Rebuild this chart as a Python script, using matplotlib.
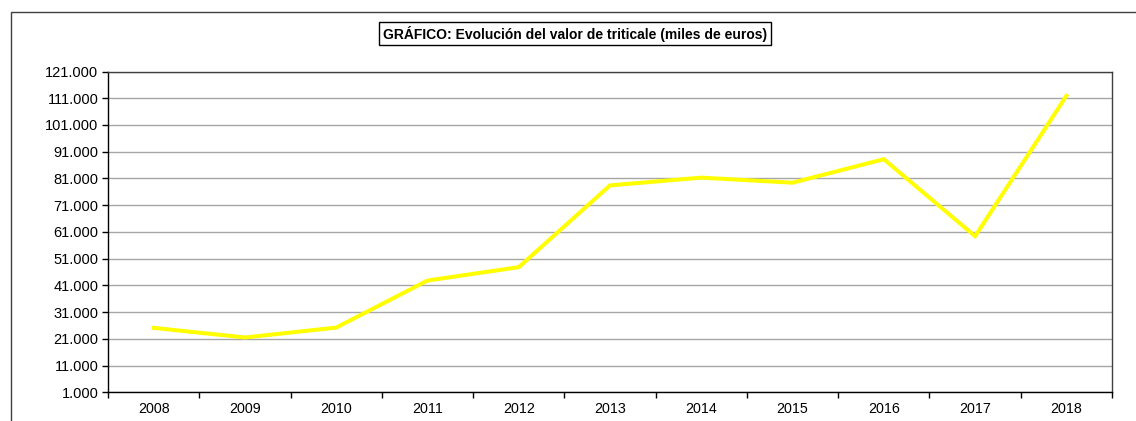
import numpy as np
import matplotlib.pyplot as plt
from matplotlib.patches import Rectangle
from matplotlib.ticker import FixedLocator, FuncFormatter

plt.rcParams.update({
    'font.family': 'sans-serif',
    'font.sans-serif': ['Liberation Sans', 'DejaVu Sans'],
    'font.size': 10,
})

# Data (miles de euros)
years = ['2008', '2009', '2010', '2011', '2012', '2013',
         '2014', '2015', '2016', '2017', '2018']
valor = [25100, 21500, 25200, 42800, 47800, 78400,
         81300, 79400, 88200, 59400, 111900]
yticks = list(range(1000, 121001, 10000))

fig = plt.figure(figsize=(11.36, 4.21), dpi=100)

# outer chart frame (cut off at right and bottom like the reference)
fig.add_artist(Rectangle((11 / 1136, -0.1), 1.2, 1.1 - 12 / 421,
                         transform=fig.transFigure, fill=False,
                         edgecolor='#404040', linewidth=1.0, clip_on=False))

ax = fig.add_axes([108 / 1136, 1 - 392.3 / 421, (1112 - 108) / 1136, (392.3 - 71.5) / 421])

x = np.arange(len(years))
ax.plot(x, valor, color='#FFFF00', linewidth=2.9, solid_joinstyle='miter', zorder=3)

ax.set_xlim(-0.5, len(years) - 0.5)
ax.set_ylim(1000, 121000)

# y axis
ax.yaxis.set_major_locator(FixedLocator(yticks))
ax.yaxis.set_major_formatter(FuncFormatter(lambda v, p: f'{v:,.0f}'.replace(',', '.')))
ax.grid(True, axis='y', color='#a6a6a6', linewidth=1.0)
ax.set_axisbelow(True)

# x axis: labels at centres, ticks at category borders
ax.set_xticks(x)
ax.set_xticklabels(years)
ax.set_xticks(np.arange(-0.5, len(years)), minor=True)
ax.tick_params(axis='x', which='major', length=0, pad=7, labelsize=10.3)
ax.tick_params(axis='x', which='minor', length=4, width=1, direction='out', color='black')
ax.tick_params(axis='y', which='major', length=4, width=1, direction='out',
               pad=3, labelsize=10.5, color='black')

for side in ['left', 'bottom']:
    ax.spines[side].set_color('black')
    ax.spines[side].set_linewidth(1.0)
for side in ['top', 'right']:
    ax.spines[side].set_color('#404040')
    ax.spines[side].set_linewidth(1.0)

fig.text(575 / 1136, 1 - 33.5 / 421,
         'GRÁFICO: Evolución del valor de triticale (miles de euros)',
         ha='center', va='center', fontsize=10, fontweight='bold',
         bbox=dict(boxstyle='square,pad=0.25', facecolor='white',
                   edgecolor='black', linewidth=1.0))

fig.savefig('out.png', dpi=100)
